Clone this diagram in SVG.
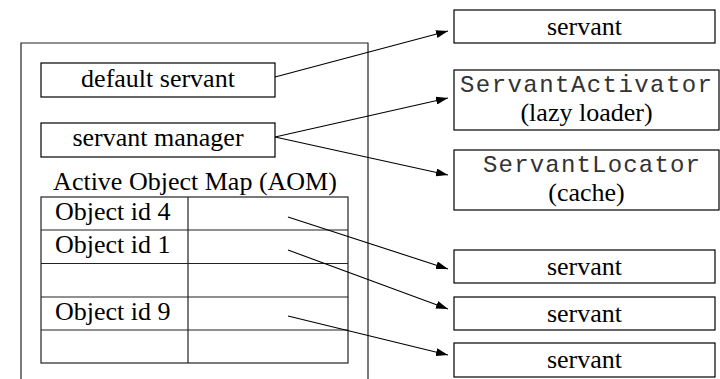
<svg xmlns="http://www.w3.org/2000/svg" width="720" height="379" viewBox="0 0 720 379">
  <style>
    .box { fill: #fff; stroke: #000; stroke-width: 1.2; }
    .frame { fill: none; stroke: #222; stroke-width: 1.2; }
    .grid { fill: none; stroke: #222; stroke-width: 1.2; }
    .serif { font-family: "Liberation Serif", "Times New Roman", serif; font-size: 26px; fill: #000; }
    .mono { font-family: "Liberation Mono", "Courier New", monospace; font-size: 24px; fill: #333; }
    .mid { text-anchor: middle; }
    .conn { fill: none; stroke: #000; stroke-width: 1.1; marker-end: url(#arrow); }
  </style>
  <defs>
    <marker id="arrow" viewBox="0 0 12 8" refX="12" refY="4" markerWidth="12" markerHeight="8" markerUnits="userSpaceOnUse" orient="auto">
      <path d="M0,0 L12,4 L0,8 Z" fill="#000"/>
    </marker>
  </defs>
  <rect width="720" height="379" fill="#fff"/>

  <!-- POA container, open at the bottom -->
  <g id="poa">
    <path class="frame" d="M21,380 V43 H368 V380"/>
  </g>

  <g id="default-servant">
    <rect class="box" x="41" y="63" width="234" height="34"/>
    <text class="serif mid" x="158" y="87">default servant</text>
  </g>

  <g id="servant-manager">
    <rect class="box" x="41" y="123" width="234" height="34"/>
    <text class="serif mid" x="158" y="146">servant manager</text>
  </g>

  <g id="aom">
    <text class="serif mid" x="195" y="190">Active Object Map (AOM)</text>
    <rect class="grid" x="41" y="197" width="307" height="166"/>
    <path class="grid" d="M188,197 V363 M41,230 H348 M41,263.5 H348 M41,297 H348 M41,330 H348"/>
    <text class="serif" x="55" y="220">Object id 4</text>
    <text class="serif" x="55" y="253">Object id 1</text>
    <text class="serif" x="55" y="320">Object id 9</text>
  </g>

  <g id="servant-top">
    <rect class="box" x="454" y="10" width="261" height="33"/>
    <text class="serif mid" x="584.5" y="35">servant</text>
  </g>

  <g id="servant-activator">
    <rect class="box" x="454" y="70" width="265" height="60"/>
    <text class="mono" x="460" y="92" textLength="252" lengthAdjust="spacing">ServantActivator</text>
    <text class="serif mid" x="586.5" y="121">(lazy loader)</text>
  </g>

  <g id="servant-locator">
    <rect class="box" x="454" y="150" width="265" height="60"/>
    <text class="mono" x="483" y="172" textLength="217" lengthAdjust="spacing">ServantLocator</text>
    <text class="serif mid" x="586.5" y="201">(cache)</text>
  </g>

  <g id="servant-4">
    <rect class="box" x="454" y="250" width="261" height="33"/>
    <text class="serif mid" x="584.5" y="275">servant</text>
  </g>

  <g id="servant-1">
    <rect class="box" x="454" y="297" width="261" height="33"/>
    <text class="serif mid" x="584.5" y="322">servant</text>
  </g>

  <g id="servant-9">
    <rect class="box" x="454" y="343" width="261" height="34"/>
    <text class="serif mid" x="584.5" y="368">servant</text>
  </g>

  <g id="connectors">
    <line class="conn" x1="275" y1="77" x2="448" y2="31"/>
    <line class="conn" x1="275" y1="137" x2="448" y2="98"/>
    <line class="conn" x1="275" y1="137" x2="448" y2="175"/>
    <line class="conn" x1="288" y1="217" x2="448" y2="269"/>
    <line class="conn" x1="288" y1="250" x2="448" y2="309"/>
    <line class="conn" x1="288" y1="316" x2="448" y2="355"/>
  </g>
</svg>
